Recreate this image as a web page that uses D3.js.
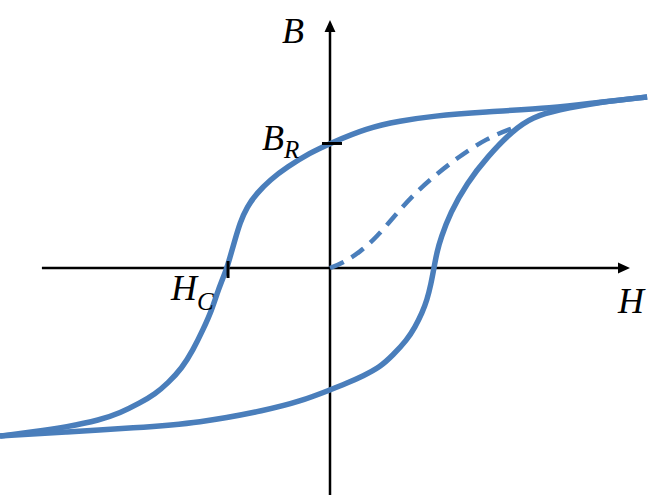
<!DOCTYPE html>
<html>
<head>
<meta charset="utf-8">
<script src="https://cdn.jsdelivr.net/npm/d3@7"></script>
<style>
  html, body { margin: 0; padding: 0; background: #fff; }
  svg { display: block; }
  .lbl { font-family: "Liberation Serif", "Times New Roman", serif; font-style: italic; fill: #000; }
</style>
</head>
<body>
<svg id="chart" width="669" height="496"></svg>
<script>
// ---- Data (normalised units: H, B) ----
// Upper (descending) branch, listed from negative saturation up to positive saturation
const upperH = [-1.0, -0.9, -0.797, -0.697, -0.636, -0.576, -0.530, -0.491, -0.448, -0.415, -0.385, -0.358, -0.339, -0.312, -0.303, -0.288, -0.273, -0.252, -0.221, -0.182, -0.130, -0.061, 0.0, 0.112, 0.212, 0.312, 0.464, 0.676, 0.818, 0.961];
const upperB = [-0.977, -0.953, -0.924, -0.884, -0.843, -0.785, -0.733, -0.669, -0.581, -0.477, -0.360, -0.244, -0.128, 0.0, 0.064, 0.163, 0.262, 0.355, 0.436, 0.512, 0.587, 0.669, 0.724, 0.814, 0.855, 0.884, 0.907, 0.930, 0.965, 0.994];
// Lower (ascending) branch, from negative saturation to positive saturation
const lowerH = [-1.0, -0.797, -0.597, -0.394, -0.191, -0.091, 0.0, 0.052, 0.100, 0.152, 0.191, 0.233, 0.258, 0.279, 0.294, 0.306, 0.315, 0.324, 0.336, 0.364, 0.415, 0.476, 0.555, 0.615, 0.688, 0.818, 0.961];
const lowerB = [-0.977, -0.953, -0.930, -0.901, -0.826, -0.776, -0.709, -0.669, -0.628, -0.576, -0.506, -0.419, -0.343, -0.262, -0.186, -0.093, 0.0, 0.093, 0.174, 0.320, 0.494, 0.645, 0.802, 0.878, 0.919, 0.965, 0.994];
// Initial magnetisation curve (dashed)
const initH = [0.0, 0.039, 0.091, 0.142, 0.203, 0.252, 0.312, 0.385, 0.476, 0.555];
const initB = [0.0, 0.029, 0.093, 0.180, 0.320, 0.424, 0.529, 0.640, 0.756, 0.814];
// Axis extents
const hAxisExtent = [-0.873, 0.909];
const bAxisExtent = [-1.32, 1.453];
// Marked values
const remanence = 0.724;   // B_R
const coercivity = -0.309; // H_C
// Labels
const axisLabels = { h: "H", b: "B" };
const markLabels = { br: ["B", "R"], hc: ["H", "C"] };

// ---- Scales ----
const x = d3.scaleLinear().domain([-1, 1]).range([0, 660]);
const y = d3.scaleLinear().domain([-1, 1]).range([440, 96]);

const svg = d3.select("#chart");
const blue = "#4a7ebb";

// Arrowhead marker
const defs = svg.append("defs");
defs.append("marker")
  .attr("id", "arrow")
  .attr("viewBox", "0 0 12 12")
  .attr("refX", 0).attr("refY", 6)
  .attr("markerWidth", 12).attr("markerHeight", 12)
  .attr("markerUnits", "userSpaceOnUse")
  .attr("orient", "auto")
  .append("path").attr("d", "M0,0.5 L12,6 L0,11.5 Z").attr("fill", "#000");

// Axes
svg.append("line")
  .attr("x1", x(hAxisExtent[0])).attr("y1", y(0))
  .attr("x2", x(hAxisExtent[1]) - 12).attr("y2", y(0))
  .attr("stroke", "#000").attr("stroke-width", 2.5)
  .attr("marker-end", "url(#arrow)");
svg.append("line")
  .attr("x1", x(0)).attr("y1", y(bAxisExtent[0]))
  .attr("x2", x(0)).attr("y2", y(bAxisExtent[1]) + 14)
  .attr("stroke", "#000").attr("stroke-width", 2.5)
  .attr("marker-end", "url(#arrow)");

// Curves
const line = d3.line().x(d => x(d[0])).y(d => y(d[1])).curve(d3.curveBasis);
const zip = (a, b) => a.map((v, i) => [v, b[i]]);

svg.append("path").datum(zip(upperH, upperB))
  .attr("d", line).attr("fill", "none").attr("stroke", blue)
  .attr("stroke-width", 5.5).attr("stroke-linecap", "butt").attr("stroke-linejoin", "round");
svg.append("path").datum(zip(lowerH, lowerB))
  .attr("d", line).attr("fill", "none").attr("stroke", blue)
  .attr("stroke-width", 5.5).attr("stroke-linecap", "butt").attr("stroke-linejoin", "round");
svg.append("path").datum(zip(initH, initB))
  .attr("d", line).attr("fill", "none").attr("stroke", blue)
  .attr("stroke-width", 4.5).attr("stroke-dasharray", "15 9");

// Tick marks for B_R and H_C
svg.append("line")
  .attr("x1", x(0) - 8).attr("x2", x(0) + 12)
  .attr("y1", y(remanence)).attr("y2", y(remanence))
  .attr("stroke", "#000").attr("stroke-width", 3);
svg.append("line")
  .attr("x1", x(coercivity)).attr("x2", x(coercivity))
  .attr("y1", y(0) - 7).attr("y2", y(0) + 10)
  .attr("stroke", "#000").attr("stroke-width", 3);

// Labels
svg.append("text").attr("class", "lbl")
  .attr("x", x(0) - 48).attr("y", y(bAxisExtent[1]) + 25)
  .attr("font-size", 36).text(axisLabels.b);
svg.append("text").attr("class", "lbl")
  .attr("x", x(hAxisExtent[1]) - 12).attr("y", y(0) + 45)
  .attr("font-size", 36).text(axisLabels.h);

const br = svg.append("text").attr("class", "lbl")
  .attr("x", x(0) - 68).attr("y", y(remanence) + 7).attr("font-size", 36);
br.append("tspan").text(markLabels.br[0]);
br.append("tspan").attr("font-size", 25).attr("dy", 8).text(markLabels.br[1]);

const hc = svg.append("text").attr("class", "lbl")
  .attr("x", x(coercivity) - 57).attr("y", y(0) + 32).attr("font-size", 36);
hc.append("tspan").text(markLabels.hc[0]);
hc.append("tspan").attr("font-size", 25).attr("dy", 10).text(markLabels.hc[1]);
</script>
</body>
</html>
